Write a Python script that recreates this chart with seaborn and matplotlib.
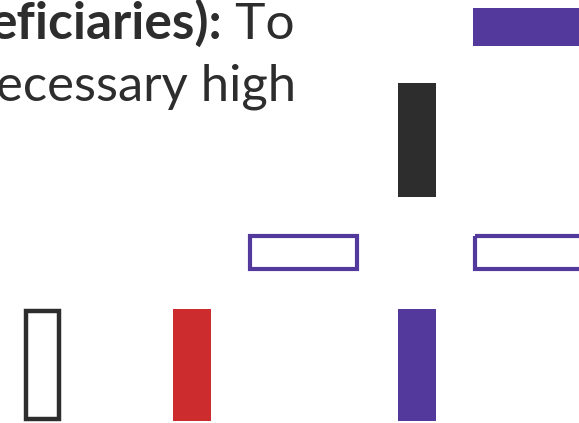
import matplotlib
matplotlib.use('Agg')
import matplotlib.pyplot as plt
import seaborn as sns

# upright bars: left edge, top edge, width, height (in picture pixels)
v_left = [24, 173, 398, 398]
v_top = [309, 309, 309, 83]
v_width = [37, 38, 38, 38]
v_height = [112, 112, 112, 114]
v_fill = ['none', '#cc2c2e', '#54399c', '#2d2d2d']
v_edge = ['#2d2d2d', '#cc2c2e', '#54399c', '#2d2d2d']

# flat bars
h_left = [248, 473, 473]
h_top = [234, 234, 8]
h_width = [111, 130, 130]
h_height = [37, 37, 38]
h_fill = ['none', 'none', '#54399c']
h_edge = ['#54399c', '#54399c', '#54399c']

line1_bold = 'eficiaries):'
line1_rest = ' To'
line2 = 'ecessary high'

sns.set_style('white')
plt.rcParams['font.family'] = ['Lato', 'DejaVu Sans']

fig = plt.figure(figsize=(5.79, 4.23), dpi=100)
ax = fig.add_axes([0, 0, 1, 1])
ax.set_xlim(0, 579)
ax.set_ylim(423, 0)
ax.axis('off')

for i in range(len(v_left)):
    lw = 0 if v_fill[i] != 'none' else 3.2
    off = lw * 100 / 72 / 2
    ax.bar(v_left[i] + off, v_height[i] - 2 * off, width=v_width[i] - 2 * off,
           bottom=v_top[i] + off, align='edge', color=v_fill[i],
           edgecolor=v_edge[i], linewidth=lw)

for i in range(len(h_left)):
    lw = 0 if h_fill[i] != 'none' else 3.0
    off = lw * 100 / 72 / 2
    ax.barh(h_top[i] + off, h_width[i] - 2 * off, height=h_height[i] - 2 * off,
            left=h_left[i] + off, align='edge', color=h_fill[i],
            edgecolor=h_edge[i], linewidth=lw)

fs = 37
t1 = ax.text(-11, 39, line1_bold, fontsize=fs, fontweight='bold', color='#2d2d2d',
             va='baseline', ha='left')
fig.canvas.draw()
bb = t1.get_window_extent()
x_end = ax.transData.inverted().transform((bb.x1, bb.y0))[0]
ax.text(x_end, 39, line1_rest, fontsize=fs, color='#2d2d2d', va='baseline', ha='left')
ax.text(-4, 101, line2, fontsize=36.5, color='#2d2d2d', va='baseline', ha='left')

fig.savefig('out.png', dpi=100)
